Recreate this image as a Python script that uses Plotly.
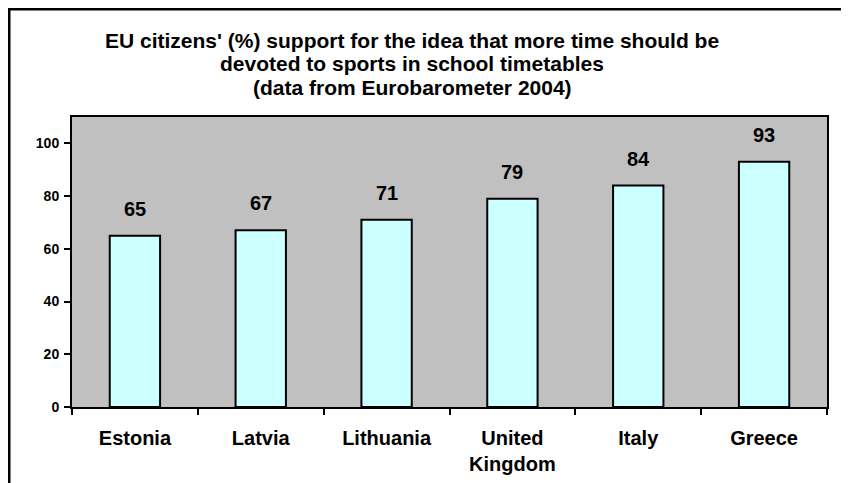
import plotly.graph_objects as go

countries = ["Estonia", "Latvia", "Lithuania", "United<br>Kingdom", "Italy", "Greece"]
support = [65, 67, 71, 79, 84, 93]
y_ticks = [0, 20, 40, 60, 80, 100]
title_lines = [
    "EU citizens' (%) support for the idea that more time should be",
    "devoted to sports in school timetables",
    "(data from Eurobarometer 2004)",
]

W, H = 849, 483
ML, MR, MT, MB = 64, 30, 109, 84
PW, PH = W - ML - MR, H - MT - MB

FONT = "Liberation Sans, Arial, sans-serif"

fig = go.Figure()
fig.add_trace(go.Bar(
    x=countries, y=support, width=0.4,
    marker=dict(color="#ccffff", line=dict(color="black", width=2)),
    hoverinfo="skip",
))

for c, v in zip(countries, support):
    fig.add_annotation(x=c, y=v, text=str(v), showarrow=False,
                       yanchor="bottom", yshift=14,
                       font=dict(family=FONT, size=20, color="black", weight="bold"))

# title lines (centres at ~32, 56, 80 px from the figure top)
for i, line in enumerate(title_lines):
    fig.add_annotation(xref="paper", yref="paper",
                       x=(404 - ML) / PW, y=(MT + PH - (32 + 24 * i)) / PH,
                       text=line, showarrow=False,
                       xanchor="center", yanchor="middle",
                       font=dict(family=FONT, size=21, color="black", weight="bold"))

fig.update_layout(
    width=W, height=H,
    margin=dict(l=ML, r=MR, t=MT, b=MB),
    paper_bgcolor="white", plot_bgcolor="#c0c0c0",
    showlegend=False,
    bargap=0.6,
)
fig.update_xaxes(
    showline=True, linecolor="black", linewidth=2, mirror=True,
    ticks="outside", ticklen=6, tickwidth=2, tickcolor="black",
    tickson="boundaries", showgrid=False, ticklabelstandoff=12,
    tickfont=dict(family=FONT, size=20, color="black", weight="bold"),
)
fig.update_yaxes(
    range=[0, 110], tickvals=y_ticks,
    showline=True, linecolor="black", linewidth=2, mirror=True,
    ticks="outside", ticklen=6, tickwidth=2, tickcolor="black",
    showgrid=False, zeroline=False, ticklabelstandoff=2,
    tickfont=dict(family=FONT, size=14, color="black", weight="bold"),
)

# outer chart frame (extends past right and bottom edges as in the reference)
fig.add_shape(type="rect", xref="paper", yref="paper",
              x0=(1 - ML) / PW, x1=(880 - ML) / PW,
              y0=(MT + PH - 520) / PH, y1=(MT + PH - 1) / PH,
              line=dict(color="black", width=3), fillcolor="rgba(0,0,0,0)",
              layer="below")

fig.write_html("out.html")
